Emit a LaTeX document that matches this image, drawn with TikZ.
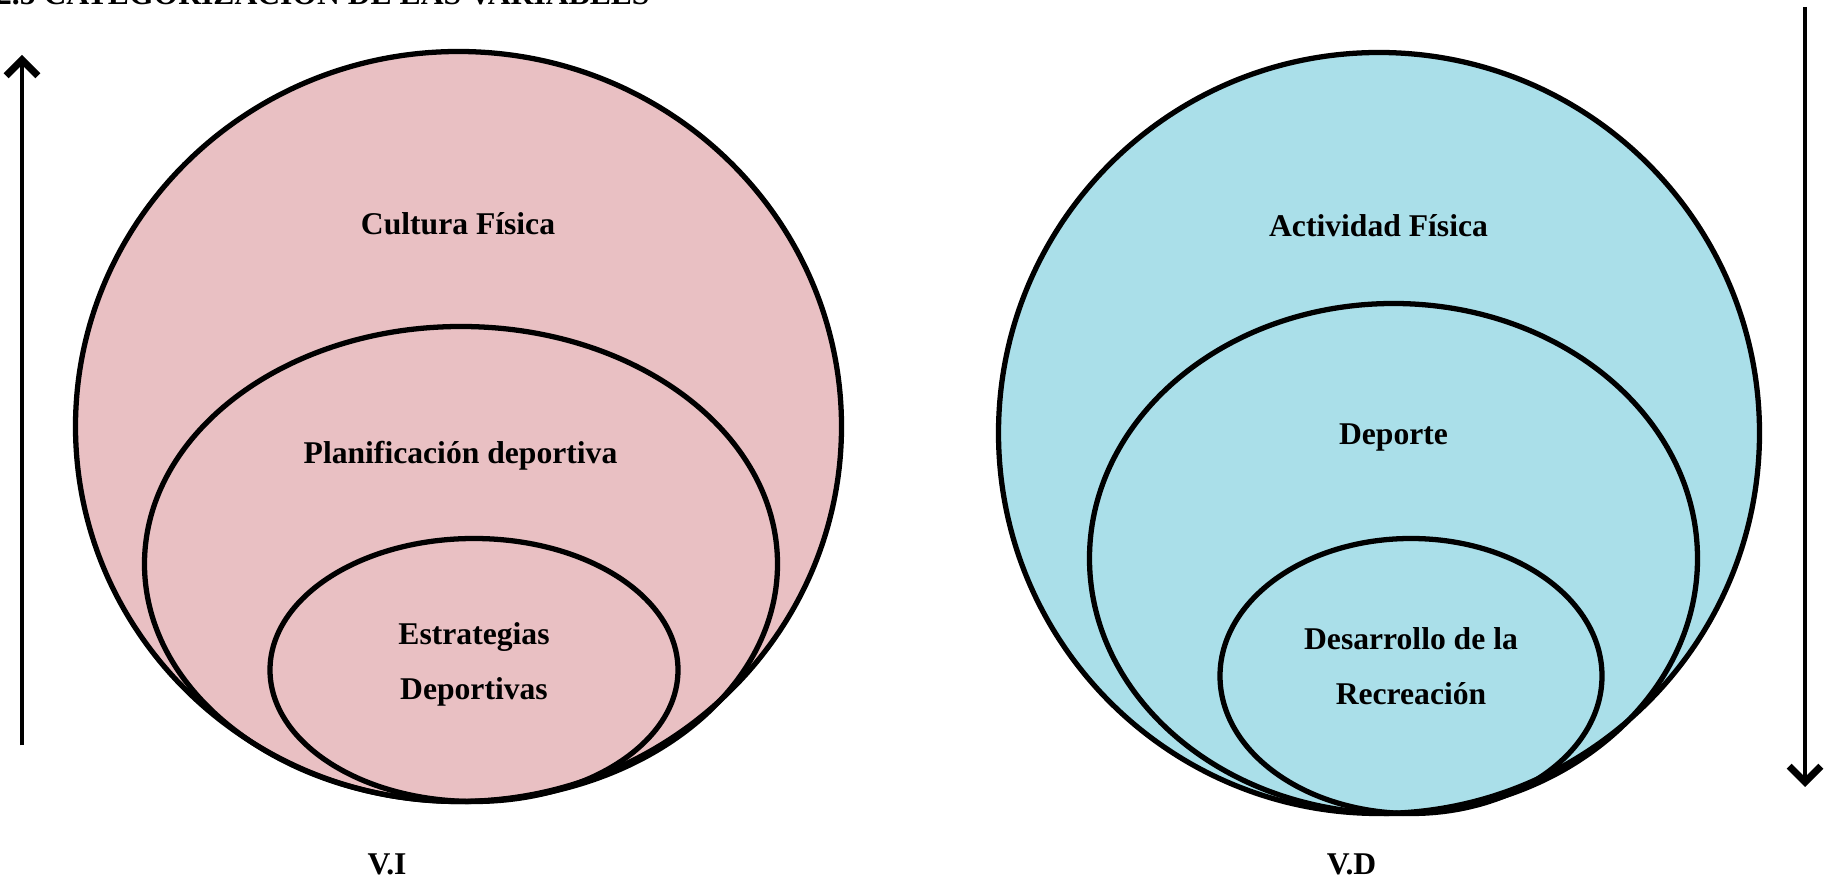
\documentclass[tikz,border=0pt]{standalone}
\usepackage{fontspec}
\setmainfont{Liberation Serif}
\usetikzlibrary{arrows.meta}
\definecolor{rosa}{RGB}{233,192,195}
\definecolor{celeste}{RGB}{170,223,233}
\tikzset{
  capa/.style={line width=3pt},
  etiqueta/.style={font=\fontsize{18}{31}\selectfont\bfseries, align=center},
  flecha/.style={line width=2.2pt, -{Straight Barb[length=9pt,width=18pt,line width=4pt]}}
}
\begin{document}
\begin{tikzpicture}
\useasboundingbox (0,0) rectangle (36.54,17.64);
\clip (0,0) rectangle (36.54,17.64);
% title, cut at the top edge
\node[etiqueta, anchor=base east, inner sep=0pt] (titulo) at (13.0,17.55) {2.5 CATEGORIZACIÓN DE LAS VARIABLES};
% independent variable
\fill[rosa] (9.17,9.11) ellipse [x radius=7.66, y radius=7.50];
\draw[capa] (9.17,9.11) ellipse [x radius=7.66, y radius=7.50];
\draw[capa] (9.22,6.36) ellipse [x radius=6.33, y radius=4.75];
\draw[capa] (9.48,4.24) ellipse [x radius=4.08, y radius=2.63];
\node[etiqueta] (cultura) at (9.16,13.16) {Cultura Física};
\node[etiqueta] (planif) at (9.21,8.53) {Planificación deportiva};
\node[etiqueta] (estrat) at (9.48,4.35) {Estrategias\\Deportivas};
\node[etiqueta] (vi) at (7.74,0.35) {V.I};
% dependent variable
\fill[celeste] (27.58,8.98) ellipse [x radius=7.61, y radius=7.61];
\draw[capa] (27.58,8.98) ellipse [x radius=7.61, y radius=7.61];
\draw[capa] (27.87,6.47) ellipse [x radius=6.08, y radius=5.10];
\draw[capa] (28.22,4.12) ellipse [x radius=3.82, y radius=2.75];
\node[etiqueta] (actividad) at (27.57,13.12) {Actividad Física};
\node[etiqueta] (deporte) at (27.87,8.88) {Deporte};
\node[etiqueta] (desarrollo) at (28.22,4.32) {Desarrollo de la\\Recreación};
\node[etiqueta] (vd) at (27.03,0.35) {V.D};
% arrows
\coordinate (baseI) at (0.44,2.73);
\coordinate (topeI) at (0.44,16.54);
\coordinate (topeD) at (36.10,17.50);
\coordinate (baseD) at (36.10,1.90);
\draw[flecha] (baseI) -- (topeI);
\draw[flecha] (topeD) -- (baseD);
\end{tikzpicture}
\end{document}
